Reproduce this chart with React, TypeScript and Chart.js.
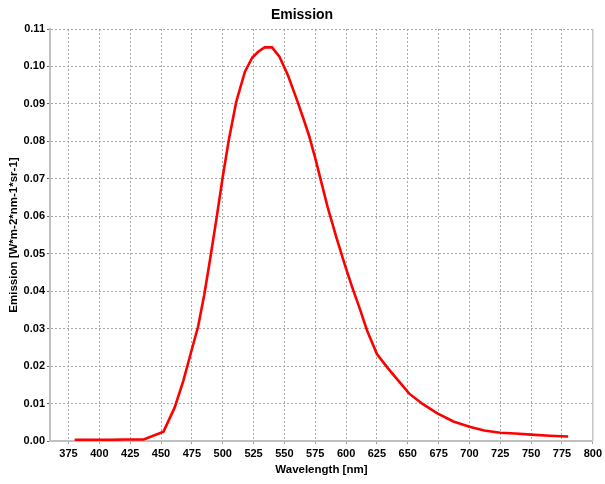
import React, { useEffect, useRef } from "react";
import { Chart, registerables } from "chart.js";

Chart.register(...registerables);

const wavelengths = [380, 390, 400, 410, 420, 436, 452, 461, 468, 475, 480, 485, 490, 495, 500, 505, 511, 518, 524, 529, 534, 540, 546, 553, 560, 566, 570, 575, 580, 585, 592, 599, 605, 611, 617, 625, 634, 651, 662, 674, 687, 700, 712, 725, 737, 750, 765, 780];
const emission = [0.0003, 0.0003, 0.0003, 0.0003, 0.0004, 0.0004, 0.0025, 0.0089, 0.016, 0.0245, 0.0305, 0.039, 0.049, 0.0595, 0.0705, 0.0805, 0.0906, 0.0986, 0.1024, 0.104, 0.1051, 0.1051, 0.1026, 0.0975, 0.0912, 0.0855, 0.0815, 0.0755, 0.069, 0.0625, 0.0545, 0.047, 0.041, 0.0354, 0.0295, 0.0232, 0.0194, 0.0127, 0.0099, 0.0074, 0.0052, 0.0038, 0.0028, 0.0022, 0.002, 0.0017, 0.0014, 0.0012];
const xTicks = [375, 400, 425, 450, 475, 500, 525, 550, 575, 600, 625, 650, 675, 700, 725, 750, 775, 800];
const yTicks = [0, 0.01, 0.02, 0.03, 0.04, 0.05, 0.06, 0.07, 0.08, 0.09, 0.1, 0.11];

const chartTitle = "Emission";
const xTitle = "Wavelength [nm]";
const yTitle = "Emission [W*m-2*nm-1*sr-1]";

const FONT = "'Liberation Sans', Arial, sans-serif";

export default function App() {
  const ref = useRef<HTMLCanvasElement | null>(null);

  useEffect(() => {
    document.body.style.margin = "0";
    const canvas = ref.current;
    if (!canvas) return;

    const extras = {
      id: "extras",
      afterDraw(chart: any) {
        const { ctx, chartArea } = chart;
        ctx.save();
        ctx.strokeStyle = "#c8c8c8";
        ctx.lineWidth = 1.5;
        ctx.beginPath();
        ctx.moveTo(chartArea.right, chartArea.top);
        ctx.lineTo(chartArea.right, chartArea.bottom);
        ctx.stroke();
        ctx.fillStyle = "#000";
        ctx.font = `bold 14px ${FONT}`;
        ctx.textAlign = "center";
        ctx.textBaseline = "middle";
        ctx.fillText(chartTitle, 302, 15);
        ctx.restore();
      },
    };

    const chart = new Chart(canvas, {
      type: "line",
      data: {
        datasets: [
          {
            data: wavelengths.map((w, i) => ({ x: w, y: emission[i] })),
            borderColor: "#ff0000",
            borderWidth: 2.6,
            pointRadius: 0,
            fill: false,
            tension: 0,
          },
        ],
      },
      options: {
        responsive: false,
        animation: false,
        layout: { padding: { top: 29, right: 9, left: 0, bottom: 0 } },
        plugins: {
          legend: { display: false },
          title: { display: false },
          tooltip: { enabled: false },
        },
        scales: {
          x: {
            type: "linear",
            min: 360,
            max: 800,
            afterBuildTicks: (scale: any) => {
              scale.ticks = xTicks.map((v) => ({ value: v }));
            },
            afterFit: (scale: any) => {
              scale.height = 43;
            },
            ticks: {
              color: "#000",
              font: { family: FONT, size: 11, weight: "bold" },
              padding: 3,
              maxRotation: 0,
              autoSkip: false,
              callback: (v: any) => String(v),
            },
            grid: {
              color: "#a8a8a8",
              lineWidth: 1,
              tickLength: 3,
              tickColor: "#a0a0a0",
            },
            border: { display: true, color: "#c0c0c0", width: 2, dash: [2, 2] },
            title: {
              display: true,
              text: xTitle,
              color: "#000",
              font: { family: FONT, size: 11.5, weight: "bold" },
              padding: { top: 0, bottom: 7 },
            },
          },
          y: {
            type: "linear",
            min: 0,
            max: 0.11,
            afterBuildTicks: (scale: any) => {
              scale.ticks = yTicks.map((v) => ({ value: v }));
            },
            afterFit: (scale: any) => {
              scale.width = 50;
            },
            ticks: {
              color: "#000",
              font: { family: FONT, size: 11, weight: "bold" },
              padding: 2,
              autoSkip: false,
              callback: (v: any) => Number(v).toFixed(2),
            },
            grid: {
              color: "#a8a8a8",
              lineWidth: 1,
              tickLength: 3,
              tickColor: "#606060",
            },
            border: { display: true, color: "#c0c0c0", width: 2, dash: [2, 2] },
            title: {
              display: true,
              text: yTitle,
              color: "#000",
              font: { family: FONT, size: 11.5, weight: "bold" },
              padding: { top: 7, bottom: 0 },
            },
          },
        },
      },
      plugins: [extras],
    });

    return () => chart.destroy();
  }, []);

  return (
    <div style={{ width: 605, height: 484, background: "#fff" }}>
      <canvas ref={ref} width={605} height={484} style={{ display: "block" }} />
    </div>
  );
}
